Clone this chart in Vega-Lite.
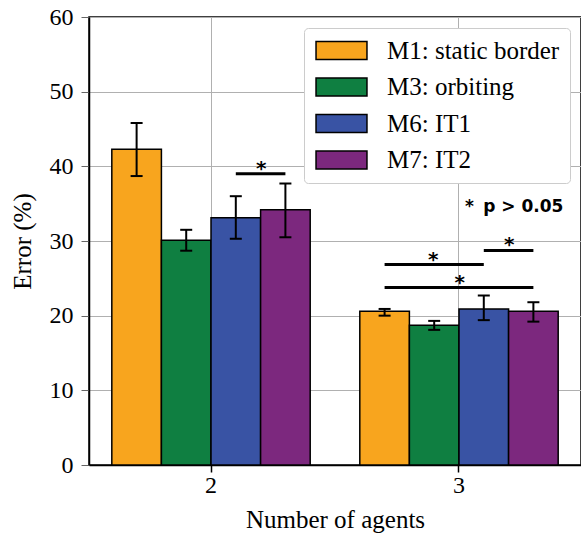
{
  "$schema": "https://vega.github.io/schema/vega-lite/v6.json",
  "width": 492,
  "height": 448,
  "autosize": {"type": "none"},
  "padding": {"left": 89, "top": 17, "right": 0, "bottom": 74},
  "background": "white",
  "config": {
    "view": {"stroke": "black", "strokeWidth": 1.5},
    "font": "Liberation Serif",
    "axis": {
      "labelFont": "Liberation Serif",
      "titleFont": "Liberation Serif",
      "labelColor": "black",
      "titleColor": "black",
      "titleFontWeight": "normal",
      "labelFontSize": 24,
      "titleFontSize": 25,
      "domainColor": "black",
      "domainWidth": 1.5,
      "gridColor": "#b0b0b0",
      "gridWidth": 1,
      "gridOpacity": 1
    },
    "legend": {
      "labelFont": "Liberation Serif",
      "labelFontSize": 25,
      "labelColor": "black",
      "labelLimit": 400
    }
  },
  "datasets": {
    "bars": [
      {"agents": 2, "method": "M1: static border", "error": 42.3, "lo": 38.7, "hi": 45.8},
      {"agents": 2, "method": "M3: orbiting", "error": 30.1, "lo": 28.7, "hi": 31.5},
      {"agents": 2, "method": "M6: IT1", "error": 33.1, "lo": 30.3, "hi": 36.0},
      {"agents": 2, "method": "M7: IT2", "error": 34.2, "lo": 30.5, "hi": 37.7},
      {"agents": 3, "method": "M1: static border", "error": 20.6, "lo": 20.0, "hi": 20.9},
      {"agents": 3, "method": "M3: orbiting", "error": 18.7, "lo": 18.1, "hi": 19.3},
      {"agents": 3, "method": "M6: IT1", "error": 20.9, "lo": 19.4, "hi": 22.7},
      {"agents": 3, "method": "M7: IT2", "error": 20.6, "lo": 19.2, "hi": 21.8}
    ],
    "sig": [
      {"agents": 2, "method": "M6: IT1", "level": 39.0, "id": "a"},
      {"agents": 2, "method": "M7: IT2", "level": 39.0, "id": "a"},
      {"agents": 3, "method": "M1: static border", "level": 26.85, "id": "b"},
      {"agents": 3, "method": "M6: IT1", "level": 26.85, "id": "b"},
      {"agents": 3, "method": "M1: static border", "level": 23.77, "id": "c"},
      {"agents": 3, "method": "M7: IT2", "level": 23.77, "id": "c"},
      {"agents": 3, "method": "M6: IT1", "level": 28.73, "id": "d"},
      {"agents": 3, "method": "M7: IT2", "level": 28.73, "id": "d"}
    ],
    "starsEdge": [
      {"agents": 2, "method": "M6: IT1", "level": 39.0, "star": "*"},
      {"agents": 3, "method": "M3: orbiting", "level": 23.77, "star": "*"},
      {"agents": 3, "method": "M6: IT1", "level": 28.73, "star": "*"}
    ],
    "starsMid": [
      {"agents": 3, "method": "M3: orbiting", "level": 26.85, "star": "*"}
    ],
    "note": [
      {"agents": 3, "level": 33.9, "label": "* \u2009p > 0.05"}
    ]
  },
  "encoding": {
    "x": {
      "field": "agents",
      "type": "ordinal",
      "title": "Number of agents",
      "scale": {"type": "band", "domain": [2, 3], "paddingInner": 0.2, "paddingOuter": 0.092},
      "axis": {
        "labelAngle": 0,
        "grid": true,
        "bandPosition": 0.5,
        "tickColor": "black",
        "tickWidth": 1.5,
        "tickSize": 7,
        "labelPadding": 1,
        "titlePadding": 10
      }
    }
  },
  "layer": [
    {
      "data": {"name": "bars"},
      "mark": {"type": "bar", "stroke": "black", "strokeWidth": 1.5},
      "encoding": {
        "xOffset": {"field": "method", "type": "nominal", "scale": {"domain": ["M1: static border", "M3: orbiting", "M6: IT1", "M7: IT2"], "paddingInner": 0, "paddingOuter": 0}},
        "y": {
          "field": "error",
          "type": "quantitative",
          "title": "Error (%)",
          "scale": {"domain": [0, 60], "nice": false},
          "axis": {"values": [0, 10, 20, 30, 40, 50, 60], "tickColor": "#666", "tickSize": 8, "labelPadding": 8, "titlePadding": 14}
        },
        "color": {
          "field": "method",
          "type": "nominal",
          "scale": {"domain": ["M1: static border", "M3: orbiting", "M6: IT1", "M7: IT2"], "range": ["#F8A51E", "#0F7F41", "#3953A4", "#7C287E"]},
          "legend": {
            "title": null,
            "orient": "top-right",
            "offset": 11,
            "padding": 10,
            "fillColor": "white",
            "strokeColor": "#cccccc",
            "cornerRadius": 4,
            "symbolType": "M-2.83,-1H2.83V1H-2.83Z",
            "symbolSize": 324,
            "symbolStrokeColor": "black",
            "symbolStrokeWidth": 1.5,
            "symbolOpacity": 1,
            "symbolOffset": 15,
            "labelOffset": 33,
            "rowPadding": 10.5
          }
        }
      }
    },
    {
      "data": {"name": "bars"},
      "mark": {"type": "rule", "color": "black", "strokeWidth": 2},
      "encoding": {
        "xOffset": {"field": "method", "type": "nominal"},
        "y": {"field": "lo", "type": "quantitative", "title": "Error (%)"},
        "y2": {"field": "hi"}
      }
    },
    {
      "data": {"name": "bars"},
      "mark": {"type": "tick", "orient": "horizontal", "color": "black", "size": 12, "thickness": 2, "opacity": 1},
      "encoding": {
        "xOffset": {"field": "method", "type": "nominal"},
        "y": {"field": "lo", "type": "quantitative", "title": "Error (%)"}
      }
    },
    {
      "data": {"name": "bars"},
      "mark": {"type": "tick", "orient": "horizontal", "color": "black", "size": 12, "thickness": 2, "opacity": 1},
      "encoding": {
        "xOffset": {"field": "method", "type": "nominal"},
        "y": {"field": "hi", "type": "quantitative", "title": "Error (%)"}
      }
    },
    {
      "data": {"name": "sig"},
      "mark": {"type": "line", "color": "black", "strokeWidth": 3},
      "encoding": {
        "xOffset": {"field": "method", "type": "nominal"},
        "y": {"field": "level", "type": "quantitative", "title": "Error (%)"},
        "detail": {"field": "id", "type": "nominal"}
      }
    },
    {
      "data": {"name": "starsEdge"},
      "mark": {"type": "text", "font": "DejaVu Sans", "fontWeight": "bold", "fontSize": 20, "baseline": "alphabetic", "dx": 25.5, "dy": 1, "color": "black"},
      "encoding": {
        "xOffset": {"field": "method", "type": "nominal"},
        "y": {"field": "level", "type": "quantitative", "title": "Error (%)"},
        "text": {"field": "star"}
      }
    },
    {
      "data": {"name": "starsMid"},
      "mark": {"type": "text", "font": "DejaVu Sans", "fontWeight": "bold", "fontSize": 20, "baseline": "alphabetic", "dx": -1, "dy": 1, "color": "black"},
      "encoding": {
        "xOffset": {"field": "method", "type": "nominal"},
        "y": {"field": "level", "type": "quantitative", "title": "Error (%)"},
        "text": {"field": "star"}
      }
    },
    {
      "data": {"name": "note"},
      "mark": {"type": "text", "font": "DejaVu Sans", "fontWeight": "bold", "fontSize": 17, "align": "left", "baseline": "alphabetic", "dx": 6, "color": "black"},
      "encoding": {
        "y": {"field": "level", "type": "quantitative", "title": "Error (%)"},
        "text": {"field": "label"}
      }
    }
  ]
}
